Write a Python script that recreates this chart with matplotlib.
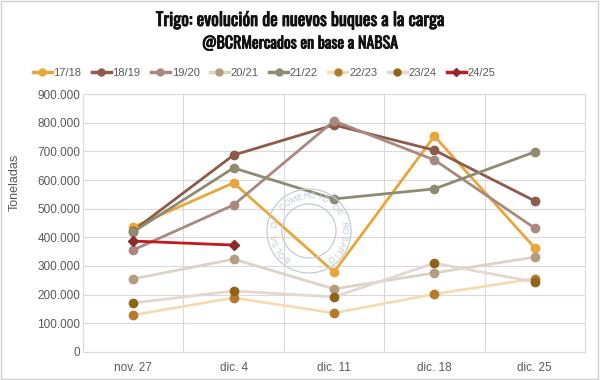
import numpy as np
import matplotlib
matplotlib.use("Agg")
import matplotlib.pyplot as plt
import matplotlib.patheffects as pe
from matplotlib.ticker import FuncFormatter
from matplotlib.patches import Rectangle, Ellipse
from matplotlib.lines import Line2D

categories = ["nov. 27", "dic. 4", "dic. 11", "dic. 18", "dic. 25"]
s1718 = [436000, 590000, 279000, 753000, 363000]
s1819 = [423000, 687000, 792000, 704000, 527000]
s1920 = [356000, 513000, 806000, 670000, 432000]
s2021 = [255000, 324000, 220000, 276000, 331000]
s2122 = [419000, 642000, 534000, 569000, 698000]
s2223 = [129000, 189000, 136000, 202000, 256000]
s2324 = [171000, 213000, 192000, 310000, 244000]
s2425 = [387000, 373000]
labels = ["17/18", "18/19", "19/20", "20/21", "21/22", "22/23", "23/24", "24/25"]

series = [s1718, s1819, s1920, s2021, s2122, s2223, s2324, s2425]
line_colors = ["#E8A63A", "#8E5A4A", "#A9897F", "#DCD3C7", "#8F8B72", "#F4DCB2", "#E2D7D2", "#C3161D"]
marker_colors = ["#E8A63A", "#8E5A4A", "#A9897F", "#B39C80", "#8F8B72", "#B57A2A", "#8F6419", "#8E2A2A"]
markers = ["o", "o", "o", "o", "o", "o", "o", "D"]

plt.rcParams['font.family'] = ['Liberation Sans', 'DejaVu Sans']
fig = plt.figure(figsize=(6, 3.8), dpi=100)
fig.patch.set_facecolor("white")
ax = fig.add_axes([83/600, 1-352/380, (585-83)/600, (352-94)/380])

x = np.arange(len(categories))
order = [6, 5, 3, 2, 4, 1, 0, 7]
for i in order:
    vals = series[i]
    xi = x[:len(vals)]
    ax.plot(xi, vals, color=line_colors[i], lw=2.0, zorder=3 + i * 0.01)
    ax.plot(xi, vals, ls="none", marker=markers[i], ms=6 if markers[i] == "o" else 5.5,
            mfc=marker_colors[i], mec=marker_colors[i], zorder=4 + i * 0.01)

handles = [Line2D([0], [0], color=line_colors[i], lw=2.5, marker=markers[i],
                  ms=5 if markers[i] == "o" else 4.5, mfc=marker_colors[i], mec=marker_colors[i])
           for i in range(len(labels))]
fig.legend(handles, labels, loc="center", bbox_to_anchor=(264/600, 1-73/380), ncol=8,
           frameon=False, fontsize=8, handlelength=1.7, handletextpad=0.15, columnspacing=0.95,
           labelcolor="#595959", borderpad=0.2)

ax.set_xlim(-0.5, 4.5)
ax.set_ylim(0, 900000)
ax.set_yticks(np.arange(0, 900001, 100000))
ax.yaxis.set_major_formatter(FuncFormatter(lambda v, p: f"{int(v):,}".replace(",", ".")))
ax.set_xticks(x)
ax.set_xticklabels(categories)
ax.set_xticks(np.arange(-0.5, 4.6, 1), minor=True)
ax.grid(axis="y", which="major", color="#D9D9D9", lw=0.8)
ax.grid(axis="x", which="minor", color="#D9D9D9", lw=0.8)
ax.grid(axis="x", which="major", visible=False)
ax.tick_params(which="both", length=0)
ax.tick_params(axis="both", labelsize=8.5, labelcolor="#595959")
ax.tick_params(axis="x", pad=7)
ax.tick_params(axis="y", pad=2)
for sp in ax.spines.values():
    sp.set_color("#D9D9D9")
    sp.set_linewidth(0.8)
ax.set_ylabel("Toneladas", fontsize=9, color="#595959")
ax.yaxis.set_label_coords(-(83 - 21) / 502, (352 - 182) / 258)
ax.set_axisbelow(True)

tfam = ["Oswald", "Barlow Condensed", "DejaVu Sans"]
bold_fx = [pe.withStroke(linewidth=0.6, foreground="#111111")]
fig.text(0.5, 1-20/380, "Trigo: evolución de nuevos buques a la carga", ha="center", va="center",
         fontsize=13, fontweight="bold", family=tfam, color="#111111", path_effects=bold_fx)
fig.text(0.5, 1-44/380, "@BCRMercados en base a NABSA", ha="center", va="center",
         fontsize=11.5, fontweight="bold", family=tfam, color="#111111", path_effects=bold_fx)

# watermark seal
cx, cy = 309, 231
seal_col = "#C3CBD8"
def fx(px):
    return px / 600
def fy(py):
    return 1 - py / 380
for r in (42, 27):
    e = Ellipse((fx(cx), fy(cy)), 2*r/600, 2*r/380, transform=fig.transFigure,
                fill=False, ec=seal_col, lw=0.9, zorder=2)
    fig.patches.append(e)
txt = "BOLSA DE COMERCIO DE ROSARIO"
n = len(txt)
angs = np.linspace(232, -52, n)
for ch, a in zip(txt, angs):
    ar = np.deg2rad(a)
    px = cx + 35 * np.cos(ar)
    py = cy - 35 * np.sin(ar)
    fig.text(fx(px), fy(py), ch, ha="center", va="center", rotation=a - 90,
             fontsize=6.5, color=seal_col, zorder=2)

fig.patches.append(Rectangle((0.002, 0.003), 0.995, 0.994, transform=fig.transFigure,
                             fill=False, ec="#D0D0D0", lw=1.0))

fig.savefig("out.png", dpi=100)
